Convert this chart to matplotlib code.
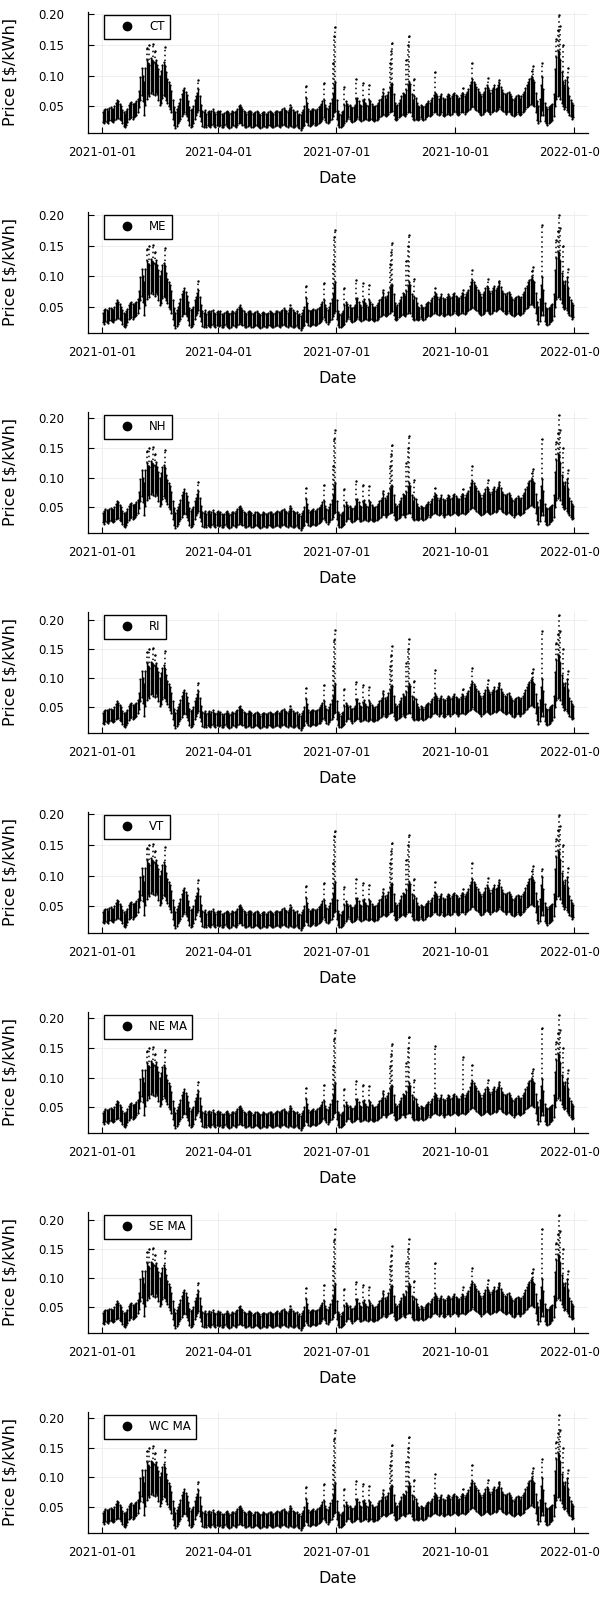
import numpy as np
import pandas as pd
import matplotlib
matplotlib.use("Agg")
import matplotlib.pyplot as plt
import matplotlib.dates as mdates
from matplotlib.lines import Line2D

zones = ["CT", "ME", "NH", "RI", "VT", "NE MA", "SE MA", "WC MA"]

# daily low / high of the hourly price band [$/kWh], one list per month
jan_lo = [0.024, 0.022, 0.026, 0.025, 0.023, 0.027, 0.028, 0.026, 0.025, 0.027,
          0.030, 0.032, 0.031, 0.029, 0.027, 0.022, 0.018, 0.016, 0.020, 0.024,
          0.029, 0.031, 0.033, 0.030, 0.032, 0.034, 0.036, 0.040, 0.048, 0.060,
          0.068]
jan_hi = [0.040, 0.044, 0.046, 0.045, 0.043, 0.047, 0.048, 0.046, 0.045, 0.050,
          0.055, 0.060, 0.058, 0.054, 0.050, 0.044, 0.040, 0.038, 0.042, 0.046,
          0.052, 0.055, 0.057, 0.054, 0.053, 0.056, 0.058, 0.062, 0.075, 0.098,
          0.112]
feb_lo = [0.058, 0.036, 0.052, 0.062, 0.070, 0.066, 0.072, 0.075, 0.070, 0.068,
          0.074, 0.070, 0.060, 0.052, 0.056, 0.064, 0.068, 0.066, 0.060, 0.055,
          0.050, 0.046, 0.040, 0.030, 0.020, 0.014, 0.018, 0.022]
feb_hi = [0.100, 0.090, 0.112, 0.125, 0.120, 0.118, 0.128, 0.125, 0.122, 0.120,
          0.126, 0.118, 0.110, 0.100, 0.108, 0.118, 0.122, 0.116, 0.105, 0.095,
          0.090, 0.085, 0.075, 0.060, 0.048, 0.040, 0.045, 0.050]
mar_lo = [0.026, 0.030, 0.034, 0.038, 0.040, 0.038, 0.034, 0.028, 0.020, 0.016,
          0.018, 0.022, 0.030, 0.036, 0.040, 0.044, 0.034, 0.026, 0.018, 0.016,
          0.019, 0.017, 0.020, 0.018, 0.016, 0.019, 0.021, 0.018, 0.017, 0.019,
          0.020]
mar_hi = [0.055, 0.062, 0.070, 0.076, 0.080, 0.074, 0.068, 0.058, 0.048, 0.044,
          0.046, 0.050, 0.060, 0.066, 0.072, 0.078, 0.066, 0.052, 0.042, 0.040,
          0.044, 0.038, 0.041, 0.043, 0.039, 0.042, 0.045, 0.040, 0.038, 0.041,
          0.043]
apr_lo = [0.018, 0.020, 0.017, 0.016, 0.019, 0.021, 0.018, 0.016, 0.015, 0.017,
          0.020, 0.019, 0.018, 0.017, 0.020, 0.022, 0.024, 0.022, 0.020, 0.019,
          0.017, 0.016, 0.018, 0.020, 0.019, 0.017, 0.016, 0.018, 0.019, 0.020]
apr_hi = [0.040, 0.042, 0.038, 0.036, 0.039, 0.041, 0.043, 0.040, 0.037, 0.039,
          0.042, 0.041, 0.040, 0.043, 0.046, 0.050, 0.052, 0.048, 0.045, 0.042,
          0.040, 0.038, 0.041, 0.043, 0.042, 0.040, 0.037, 0.039, 0.041, 0.042]
may_lo = [0.018, 0.016, 0.014, 0.017, 0.019, 0.018, 0.016, 0.017, 0.019, 0.020,
          0.018, 0.017, 0.016, 0.018, 0.019, 0.020, 0.018, 0.017, 0.019, 0.020,
          0.021, 0.019, 0.018, 0.017, 0.019, 0.020, 0.018, 0.017, 0.016, 0.018,
          0.019]
may_hi = [0.040, 0.038, 0.036, 0.039, 0.041, 0.040, 0.038, 0.037, 0.040, 0.042,
          0.041, 0.039, 0.038, 0.040, 0.042, 0.043, 0.041, 0.040, 0.043, 0.045,
          0.047, 0.044, 0.042, 0.040, 0.044, 0.046, 0.048, 0.044, 0.041, 0.040,
          0.042]
jun_lo = [0.016, 0.014, 0.012, 0.015, 0.018, 0.020, 0.026, 0.024, 0.020, 0.018,
          0.019, 0.021, 0.022, 0.020, 0.019, 0.021, 0.023, 0.024, 0.026, 0.030,
          0.032, 0.028, 0.024, 0.022, 0.025, 0.028, 0.030, 0.034, 0.040, 0.042]
jun_hi = [0.036, 0.038, 0.035, 0.040, 0.044, 0.050, 0.064, 0.056, 0.045, 0.042,
          0.043, 0.045, 0.046, 0.044, 0.043, 0.046, 0.048, 0.050, 0.054, 0.058,
          0.060, 0.052, 0.047, 0.045, 0.050, 0.056, 0.062, 0.070, 0.085, 0.090]
jul_lo = [0.030, 0.020, 0.017, 0.016, 0.018, 0.020, 0.022, 0.026, 0.030, 0.032,
          0.030, 0.026, 0.024, 0.026, 0.028, 0.030, 0.032, 0.030, 0.027, 0.026,
          0.028, 0.030, 0.031, 0.029, 0.027, 0.028, 0.030, 0.029, 0.027, 0.026,
          0.028]
jul_hi = [0.060, 0.042, 0.038, 0.036, 0.040, 0.042, 0.052, 0.058, 0.054, 0.050,
          0.052, 0.048, 0.047, 0.049, 0.052, 0.062, 0.064, 0.058, 0.052, 0.050,
          0.058, 0.062, 0.056, 0.052, 0.050, 0.060, 0.058, 0.054, 0.050, 0.048,
          0.050]
aug_lo = [0.028, 0.030, 0.032, 0.034, 0.036, 0.038, 0.036, 0.034, 0.036, 0.038,
          0.040, 0.042, 0.042, 0.036, 0.030, 0.028, 0.030, 0.032, 0.034, 0.036,
          0.038, 0.036, 0.034, 0.038, 0.040, 0.042, 0.040, 0.034, 0.030, 0.028,
          0.030]
aug_hi = [0.052, 0.056, 0.060, 0.062, 0.066, 0.072, 0.066, 0.062, 0.068, 0.074,
          0.080, 0.084, 0.086, 0.070, 0.056, 0.050, 0.052, 0.056, 0.060, 0.066,
          0.072, 0.070, 0.068, 0.076, 0.084, 0.090, 0.086, 0.070, 0.060, 0.066,
          0.064]
sep_lo = [0.030, 0.028, 0.030, 0.032, 0.030, 0.028, 0.030, 0.032, 0.034, 0.036,
          0.034, 0.036, 0.038, 0.040, 0.042, 0.040, 0.038, 0.036, 0.038, 0.040,
          0.036, 0.034, 0.036, 0.038, 0.040, 0.038, 0.036, 0.038, 0.040, 0.042]
sep_hi = [0.056, 0.050, 0.048, 0.052, 0.050, 0.048, 0.050, 0.054, 0.056, 0.058,
          0.056, 0.060, 0.064, 0.068, 0.072, 0.070, 0.066, 0.062, 0.066, 0.070,
          0.064, 0.060, 0.062, 0.066, 0.070, 0.068, 0.064, 0.066, 0.070, 0.072]
oct_lo = [0.040, 0.038, 0.036, 0.038, 0.040, 0.042, 0.040, 0.038, 0.040, 0.042,
          0.044, 0.046, 0.048, 0.050, 0.048, 0.046, 0.044, 0.042, 0.040, 0.038,
          0.036, 0.038, 0.040, 0.042, 0.044, 0.042, 0.040, 0.038, 0.040, 0.042,
          0.044]
oct_hi = [0.068, 0.066, 0.062, 0.064, 0.068, 0.072, 0.070, 0.066, 0.070, 0.074,
          0.078, 0.084, 0.090, 0.094, 0.090, 0.086, 0.082, 0.078, 0.074, 0.070,
          0.066, 0.070, 0.074, 0.080, 0.084, 0.080, 0.076, 0.072, 0.076, 0.080,
          0.084]
nov_lo = [0.042, 0.044, 0.046, 0.048, 0.046, 0.044, 0.042, 0.040, 0.038, 0.040,
          0.042, 0.040, 0.038, 0.036, 0.034, 0.036, 0.038, 0.040, 0.038, 0.036,
          0.038, 0.040, 0.042, 0.046, 0.048, 0.050, 0.052, 0.054, 0.056, 0.052]
nov_hi = [0.078, 0.080, 0.084, 0.088, 0.082, 0.076, 0.072, 0.070, 0.068, 0.072,
          0.074, 0.070, 0.066, 0.062, 0.060, 0.064, 0.066, 0.068, 0.066, 0.062,
          0.066, 0.070, 0.074, 0.080, 0.084, 0.090, 0.094, 0.096, 0.098, 0.092]
dec_lo = [0.050, 0.040, 0.028, 0.022, 0.026, 0.036, 0.044, 0.036, 0.026, 0.022,
          0.020, 0.022, 0.024, 0.026, 0.028, 0.034, 0.050, 0.062, 0.066, 0.068,
          0.062, 0.056, 0.050, 0.046, 0.048, 0.044, 0.040, 0.036, 0.034, 0.030,
          0.032]
dec_hi = [0.090, 0.072, 0.058, 0.050, 0.062, 0.085, 0.098, 0.078, 0.056, 0.048,
          0.046, 0.048, 0.050, 0.052, 0.054, 0.070, 0.110, 0.130, 0.140, 0.138,
          0.125, 0.105, 0.090, 0.085, 0.092, 0.098, 0.080, 0.066, 0.060, 0.055,
          0.052]

# isolated price spikes shared by all zones
spike_dates = ["2021-02-04", "2021-02-06", "2021-02-09", "2021-02-10", "2021-02-18",
               "2021-03-16", "2021-05-26", "2021-06-07", "2021-06-21", "2021-06-28",
               "2021-06-29", "2021-07-07", "2021-07-16", "2021-07-21", "2021-07-26",
               "2021-08-06", "2021-08-11", "2021-08-12", "2021-08-24", "2021-08-25",
               "2021-08-30", "2021-10-26", "2021-11-04", "2021-11-29", "2021-11-30",
               "2021-12-18", "2021-12-19", "2021-12-21", "2021-12-23", "2021-12-27"]
spike_vals = [0.145, 0.150, 0.152, 0.140, 0.146,
              0.092, 0.052, 0.083, 0.088, 0.120,
              0.165, 0.081, 0.094, 0.088, 0.085,
              0.078, 0.120, 0.140, 0.125, 0.150,
              0.095, 0.096, 0.092, 0.108, 0.115,
              0.160, 0.175, 0.180, 0.150, 0.112]

# spikes whose height differs by zone
zone_spike_dates = ["2021-06-30", "2021-08-13", "2021-08-26", "2021-09-15",
                    "2021-10-07", "2021-10-14", "2021-12-07", "2021-12-20"]
ct_peaks = [0.179, 0.153, 0.164, 0.106, 0.080, 0.120, 0.120, 0.198]
me_peaks = [0.176, 0.154, 0.167, 0.080, 0.078, 0.110, 0.184, 0.200]
nh_peaks = [0.180, 0.155, 0.170, 0.082, 0.080, 0.120, 0.165, 0.205]
ri_peaks = [0.182, 0.155, 0.166, 0.113, 0.082, 0.117, 0.181, 0.207]
vt_peaks = [0.172, 0.153, 0.166, 0.090, 0.078, 0.120, 0.110, 0.198]
nema_peaks = [0.180, 0.157, 0.169, 0.154, 0.135, 0.121, 0.183, 0.205]
sema_peaks = [0.183, 0.155, 0.167, 0.125, 0.085, 0.117, 0.183, 0.207]
wcma_peaks = [0.180, 0.155, 0.167, 0.105, 0.080, 0.120, 0.130, 0.204]
zone_peaks = [ct_peaks, me_peaks, nh_peaks, ri_peaks, vt_peaks,
              nema_peaks, sema_peaks, wcma_peaks]

lo = jan_lo + feb_lo + mar_lo + apr_lo + may_lo + jun_lo + jul_lo + aug_lo + sep_lo + oct_lo + nov_lo + dec_lo
hi = jan_hi + feb_hi + mar_hi + apr_hi + may_hi + jun_hi + jul_hi + aug_hi + sep_hi + oct_hi + nov_hi + dec_hi
days = pd.date_range("2021-01-01", periods=len(lo), freq="D")
s_hi = pd.Series(hi, index=days)
x_day = days + pd.Timedelta(hours=12)

plt.rcParams["font.family"] = "DejaVu Sans"

fig = plt.figure(figsize=(6, 16), dpi=100)
for i, (zone, peaks) in enumerate(zip(zones, zone_peaks)):
    ax = fig.add_axes([88 / 600, 1 - (200 * i + 133) / 1600, 500 / 600, 121 / 1600])

    ax.vlines(x_day, lo, hi, color="black", lw=1.0)
    ax.scatter(x_day, lo, s=2.5, c="black", lw=0)
    ax.scatter(x_day, hi, s=2.5, c="black", lw=0)

    sd = pd.to_datetime(spike_dates + zone_spike_dates)
    sv = np.array(spike_vals + peaks)
    base = s_hi[sd].values
    xs = sd + pd.Timedelta(hours=12)
    ax.vlines(xs, base, sv, color="black", lw=1.1, linestyles=(0, (1, 2.2)))
    ax.scatter(xs, sv, s=3, c="black", lw=0)

    ymin, ymax = min(lo), sv.max()
    pad = 0.03 * (ymax - ymin)
    ax.set_ylim(ymin - pad, ymax + pad)
    ax.set_xlim(pd.Timestamp("2021-01-01") - pd.Timedelta(days=11),
                pd.Timestamp("2022-01-01") + pd.Timedelta(days=11))

    ax.set_xticks(pd.to_datetime(["2021-01-01", "2021-04-01", "2021-07-01",
                                  "2021-10-01", "2022-01-01"]))
    ax.xaxis.set_major_formatter(mdates.DateFormatter("%Y-%m-%d"))
    ax.set_yticks([0.05, 0.10, 0.15, 0.20])
    ax.set_yticklabels(["0.05", "0.10", "0.15", "0.20"])
    ax.tick_params(axis="both", direction="in", length=4, width=0.8,
                   labelsize=8.5, colors="black")
    ax.tick_params(axis="y", pad=17)
    ax.tick_params(axis="x", pad=9)
    ax.grid(True, color="#ebebeb", lw=0.6)
    ax.set_axisbelow(True)
    for side in ["top", "right"]:
        ax.spines[side].set_visible(False)
    for side in ["left", "bottom"]:
        ax.spines[side].set_linewidth(0.9)
        ax.spines[side].set_color("black")

    ax.set_xlabel("Date", fontsize=11.5, labelpad=9)
    ax.set_ylabel(r"Price [\$/kWh]", fontsize=11.5, labelpad=15)

    handle = Line2D([], [], marker="o", ls="", color="black", markersize=6)
    ax.legend([handle], [zone], loc="upper left", bbox_to_anchor=(0.032, 0.975),
              borderaxespad=0, fancybox=False, edgecolor="black", framealpha=1,
              fontsize=8.5, handlelength=3, borderpad=0.45, handletextpad=0.37)

fig.savefig("out.png", dpi=100)
